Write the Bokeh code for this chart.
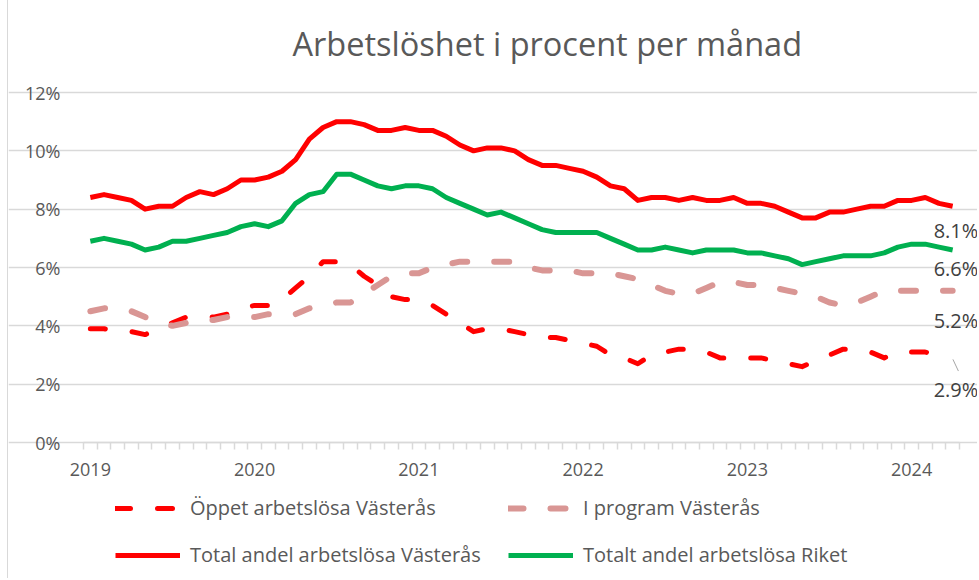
from bokeh.plotting import figure
from bokeh.models import (Range1d, FixedTicker, PrintfTickFormatter, Legend, LegendItem, Label)
from bokeh.embed import file_html
from bokeh.resources import INLINE

# ---- data (Jan 2019 .. Apr 2024, monthly, percent) ----
years = ["2019", "2020", "2021", "2022", "2023", "2024"]

oppet = [3.9, 3.9, 3.8, 3.8, 3.7, 3.9, 4.1, 4.3, 4.3, 4.3, 4.4, 4.6,
         4.7, 4.7, 4.9, 5.3, 5.7, 6.2, 6.2, 6.1, 5.7, 5.4, 5.0, 4.9,
         4.9, 4.7, 4.4, 4.1, 3.8, 3.9, 3.9, 3.8, 3.7, 3.6, 3.6, 3.5,
         3.4, 3.3, 3.0, 2.9, 2.7, 3.0, 3.1, 3.2, 3.2, 3.1, 2.9, 2.9,
         2.9, 2.9, 2.8, 2.7, 2.6, 2.8, 3.0, 3.2, 3.2, 3.1, 2.9, 3.1,
         3.1, 3.1, 3.0, 2.9]

program = [4.5, 4.6, 4.6, 4.5, 4.3, 4.1, 4.0, 4.1, 4.2, 4.2, 4.3, 4.3,
           4.3, 4.4, 4.4, 4.4, 4.6, 4.7, 4.8, 4.8, 5.1, 5.4, 5.7, 5.8,
           5.8, 6.0, 6.1, 6.2, 6.2, 6.2, 6.2, 6.2, 6.0, 5.9, 5.9, 5.9,
           5.8, 5.8, 5.8, 5.7, 5.6, 5.4, 5.2, 5.1, 5.1, 5.3, 5.5, 5.5,
           5.4, 5.4, 5.3, 5.2, 5.1, 5.0, 4.8, 4.7, 4.8, 5.0, 5.2, 5.2,
           5.2, 5.2, 5.2, 5.2]

total_vas = [8.4, 8.5, 8.4, 8.3, 8.0, 8.1, 8.1, 8.4, 8.6, 8.5, 8.7, 9.0,
             9.0, 9.1, 9.3, 9.7, 10.4, 10.8, 11.0, 11.0, 10.9, 10.7, 10.7, 10.8,
             10.7, 10.7, 10.5, 10.2, 10.0, 10.1, 10.1, 10.0, 9.7, 9.5, 9.5, 9.4,
             9.3, 9.1, 8.8, 8.7, 8.3, 8.4, 8.4, 8.3, 8.4, 8.3, 8.3, 8.4,
             8.2, 8.2, 8.1, 7.9, 7.7, 7.7, 7.9, 7.9, 8.0, 8.1, 8.1, 8.3,
             8.3, 8.4, 8.2, 8.1]

riket = [6.9, 7.0, 6.9, 6.8, 6.6, 6.7, 6.9, 6.9, 7.0, 7.1, 7.2, 7.4,
         7.5, 7.4, 7.6, 8.2, 8.5, 8.6, 9.2, 9.2, 9.0, 8.8, 8.7, 8.8,
         8.8, 8.7, 8.4, 8.2, 8.0, 7.8, 7.9, 7.7, 7.5, 7.3, 7.2, 7.2,
         7.2, 7.2, 7.0, 6.8, 6.6, 6.6, 6.7, 6.6, 6.5, 6.6, 6.6, 6.6,
         6.5, 6.5, 6.4, 6.3, 6.1, 6.2, 6.3, 6.4, 6.4, 6.4, 6.5, 6.7,
         6.8, 6.8, 6.7, 6.6]

names = ["Öppet arbetslösa Västerås", "I program Västerås",
         "Total andel arbetslösa Västerås", "Totalt andel arbetslösa Riket"]
y_ticks = [0, 2, 4, 6, 8, 10, 12]

FONT = "Open Sans"
GREY = "#595959"
GRID = "#D9D9D9"

n = len(total_vas)
x = list(range(n))

# layout (pixels)
W, H = 970, 578
TOP_PAD = 14                    # room above the 12 % line for its label
LEFT_PAD = 75                   # room left of the plotted area for y labels
BL, BR, BT, BB = 0, 0, 92 - TOP_PAD, 0
frame_w = W - BL - BR
frame_h = H - BT - BB
px_per_month = 876 / n          # plotted axis spans 876 px
px_per_pct = 350 / 12           # 0..12 % spans 350 px
x_start = -0.5 - LEFT_PAD / px_per_month
x_end = x_start + frame_w / px_per_month
y_end = 12 + TOP_PAD / px_per_pct
y_start = y_end - frame_h / px_per_pct   # room below the axis for labels and legend

p = figure(width=W, height=H, output_backend="svg", toolbar_location=None,
           x_range=Range1d(x_start, x_end), y_range=Range1d(y_start, y_end),
           min_border_left=BL, min_border_right=BR, min_border_top=BT,
           min_border_bottom=BB)
p.outline_line_color = None
p.background_fill_color = "white"
p.border_fill_color = "white"
p.styles = {"margin-left": "7px", "border-left": "1px solid #D9D9D9"}

# title
p.title.text = "Arbetslöshet i procent per månad"
p.title.align = "left"
p.title.offset = 209 + LEFT_PAD
p.title.text_font = FONT
p.title.text_font_size = "32.5px"
p.title.text_font_style = "normal"
p.title.text_color = GREY
p.title.standoff = 26

# y axis, fixed at the left end of the category axis
yt = FixedTicker(ticks=y_ticks)
p.yaxis.fixed_location = -0.5
p.yaxis.ticker = yt
p.yaxis.formatter = PrintfTickFormatter(format="%d%%")
p.yaxis.axis_line_color = None
p.yaxis.major_tick_line_color = None
p.yaxis.minor_tick_line_color = None
p.yaxis.major_label_text_font = FONT
p.yaxis.major_label_text_font_size = "18px"
p.yaxis.major_label_text_color = GREY
p.yaxis.major_label_standoff = 17
p.ygrid.ticker = yt
p.ygrid.grid_line_color = GRID
p.ygrid.grid_line_width = 1.5
p.ygrid.bounds = (-0.5, n - 0.5)
p.xgrid.grid_line_color = None

# x axis, fixed at 0 %
year_pos = [12 * i for i in range(len(years))]
p.xaxis.fixed_location = 0
p.xaxis.ticker = FixedTicker(ticks=year_pos, minor_ticks=[i - 0.5 for i in range(n + 1)])
p.xaxis.major_label_overrides = {pos: lab for pos, lab in zip(year_pos, years)}
p.xaxis.bounds = (-0.5, n - 0.5)
p.xaxis.axis_line_color = GRID
p.xaxis.axis_line_width = 1.5
p.xaxis.major_tick_line_color = None
p.xaxis.major_tick_out = 0
p.xaxis.major_tick_in = 0
p.xaxis.minor_tick_line_color = GRID
p.xaxis.minor_tick_line_width = 1.5
p.xaxis.minor_tick_out = 7
p.xaxis.minor_tick_in = 0
p.xaxis.major_label_text_font = FONT
p.xaxis.major_label_text_font_size = "18px"
p.xaxis.major_label_text_color = GREY
p.xaxis.major_label_standoff = 13

# series
r1 = p.line(x, oppet, line_color="#FF0000", line_width=5, line_dash="15 27",
            line_cap="round", line_join="round")
r2 = p.line(x, program, line_color="#D99694", line_width=6, line_dash="15 27",
            line_cap="round", line_join="round")
r3 = p.line(x, total_vas, line_color="#FF0000", line_width=5, line_join="round")
r4 = p.line(x, riket, line_color="#00B050", line_width=5, line_join="round")

# leader line for the lowest end label
p.segment(x0=[x[-1] + 0.02], y0=[oppet[-1] - 0.05], x1=[x[-1] + 0.42], y1=[oppet[-1] - 0.45],
          line_color="#A6A6A6", line_width=1)

# end labels
label_off = {0: -32, 1: -30, 2: -24, 3: -18}
for i, vals in enumerate([oppet, program, total_vas, riket]):
    p.add_layout(Label(x=x[-1], y=vals[-1], text=f"{vals[-1]:.1f}%",
                       x_offset=-19, y_offset=label_off[i],
                       text_align="left", text_baseline="middle",
                       text_font=FONT, text_font_size="20px",
                       text_color="#404040"))

# legend: 2 x 2 grid below the axis
leg = Legend(items=[LegendItem(label=nm, renderers=[r]) for nm, r in zip(names, [r1, r2, r3, r4])],
             location=(32 + LEFT_PAD, 10), orientation="horizontal", ncols=2,
             padding=0, margin=0, spacing=20,
             border_line_color=None, background_fill_alpha=0,
             label_text_font=FONT, label_text_font_size="20px",
             label_text_color=GREY, glyph_width=65, glyph_height=24,
             label_height=24, label_width=298, label_standoff=10)
p.add_layout(leg, "center")

open("out.html", "w").write(file_html(p, INLINE))
